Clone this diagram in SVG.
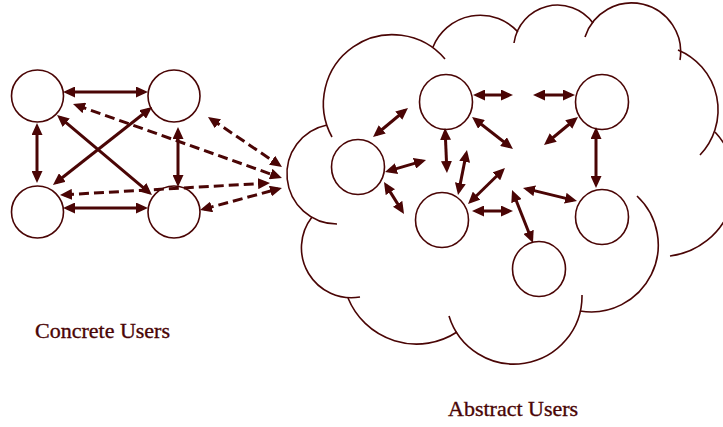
<svg xmlns="http://www.w3.org/2000/svg" width="723" height="427" viewBox="0 0 723 427">
<style>
.node{fill:#fff;stroke:#4a0505;stroke-width:1.6}
.cloud path{fill:none;stroke:#4a0505;stroke-width:1.6}
.arr{stroke:#4a0505;stroke-width:3;fill:none;marker-start:url(#ah);marker-end:url(#ah)}
.dash{stroke-dasharray:10 5}
.lbl{font-family:"Liberation Serif","Times New Roman",serif;font-size:22px;fill:#4a0505;stroke:#4a0505;stroke-width:0.35}
</style>
<defs>
<marker id="ah" markerUnits="userSpaceOnUse" markerWidth="12" markerHeight="11" viewBox="0 0 12 11" refX="8" refY="5.5" orient="auto-start-reverse">
<path d="M0,0 L12,5.5 L0,11 z" fill="#4a0505"/>
</marker>
</defs>
<rect width="723" height="427" fill="#fff"/>
<g id="cloud" class="cloud">
<path d="M332,137 A69,69 0 0 1 445,59"/>
<path d="M433,47 A51,51 0 0 1 518,32"/>
<path d="M514,43 A44,44 0 0 1 593,23"/>
<path d="M585,37 A49,49 0 0 1 680,60"/>
<path d="M678,50 A65,65 0 0 1 700,155"/>
<path d="M715,132 A74,74 0 0 1 670,256"/>
<path d="M637,196 A67,67 0 0 1 580,311"/>
<path d="M582,295 A68,68 0 0 1 449,316"/>
<path d="M457,332 A74,74 0 0 1 348,298"/>
<path d="M360,297 A50,50 0 0 1 312,217"/>
<path d="M337,224 A50,50 0 0 1 327,125"/>
</g>
<g id="concrete-tl"><circle class="node" cx="37.5" cy="96" r="26"/></g>
<g id="concrete-tr"><circle class="node" cx="174" cy="96" r="26"/></g>
<g id="concrete-bl"><circle class="node" cx="37.5" cy="212" r="26"/></g>
<g id="concrete-br"><circle class="node" cx="174" cy="212" r="26"/></g>
<g id="abstract-a"><ellipse class="node" cx="358" cy="167" rx="26.5" ry="27.5"/></g>
<g id="abstract-b"><ellipse class="node" cx="446" cy="102" rx="26.5" ry="27.5"/></g>
<g id="abstract-c"><ellipse class="node" cx="602" cy="102" rx="26.5" ry="27.5"/></g>
<g id="abstract-d"><ellipse class="node" cx="442" cy="220" rx="26.5" ry="27.5"/></g>
<g id="abstract-e"><ellipse class="node" cx="602" cy="217" rx="26.5" ry="27.5"/></g>
<g id="abstract-f"><ellipse class="node" cx="539" cy="269" rx="26.5" ry="27.5"/></g>
<g id="connectors">
<path class="arr" d="M67,92 L144,92"/>
<path class="arr" d="M67,208 L144,208"/>
<path class="arr" d="M37,127 L37,179"/>
<path class="arr" d="M178,131 L178,183"/>
<path class="arr" d="M60.1,117.6 L148.9,192.4"/>
<path class="arr" d="M148.9,109.5 L56.1,182.5"/>
<path class="arr dash" d="M76.8,105.3 L278.2,176.7"/>
<path class="arr dash" d="M211.3,119.2 L278.7,164.8"/>
<path class="arr dash" d="M64,194.8 L266,183.2"/>
<path class="arr dash" d="M203.9,209 L278.1,189"/>
<path class="arr" d="M376.1,134.5 L404.9,110.5"/>
<path class="arr" d="M477,95 L509,95"/>
<path class="arr" d="M537,95 L571,95"/>
<path class="arr" d="M475.2,119.5 L509.8,146.5"/>
<path class="arr" d="M574.9,119.5 L547.1,142.5"/>
<path class="arr" d="M445.2,132 L446.8,169"/>
<path class="arr" d="M388.8,170.9 L422.2,161.1"/>
<path class="arr" d="M466.2,153.9 L458.8,191.1"/>
<path class="arr" d="M502.1,170.8 L470.9,201.2"/>
<path class="arr" d="M386.1,185.4 L401.9,210.6"/>
<path class="arr" d="M476,211 L509,211"/>
<path class="arr" d="M526.9,188.9 L573.1,200.1"/>
<path class="arr" d="M596,131 L596,184"/>
<path class="arr" d="M513.5,193.7 L531.5,239.3"/>
</g>
<text class="lbl" x="35" y="338">Concrete Users</text>
<text class="lbl" x="448" y="416">Abstract Users</text>
</svg>
